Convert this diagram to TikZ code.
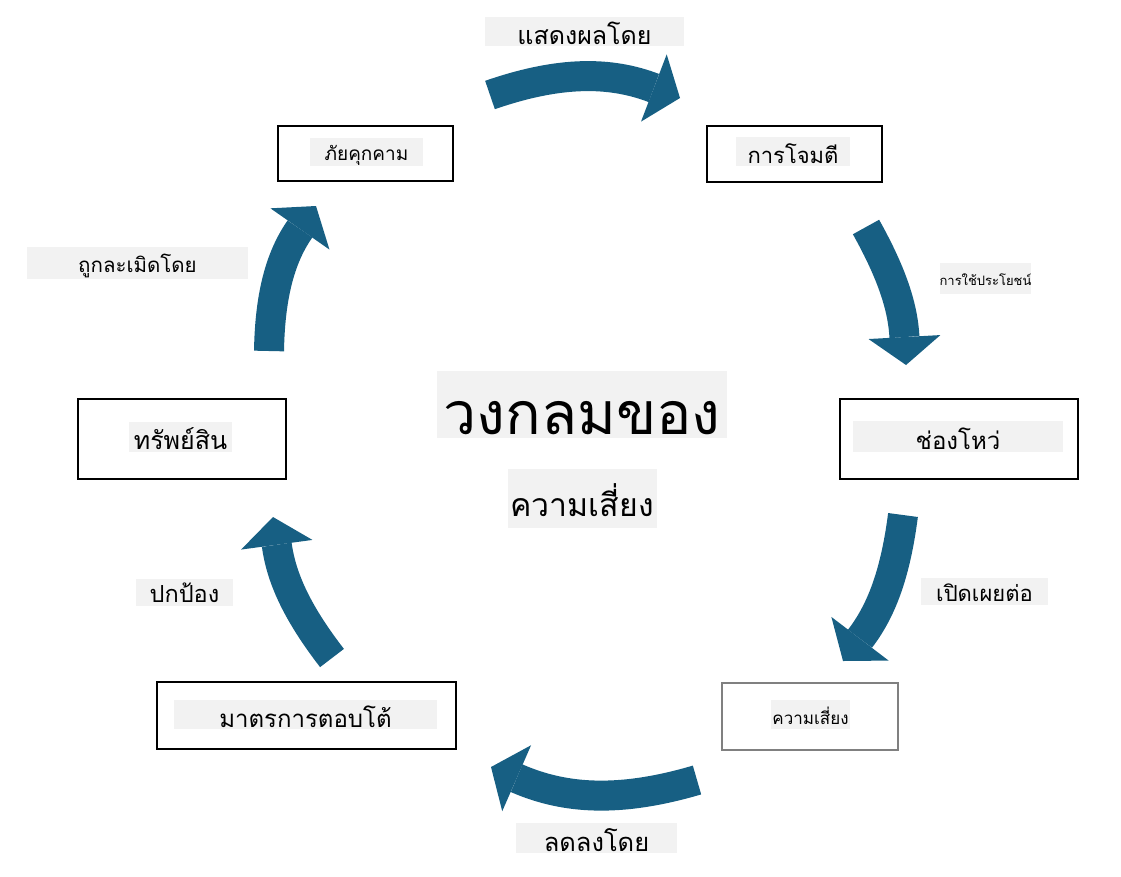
\documentclass[tikz,border=0pt]{standalone}
\usepackage{fontspec}
\setmainfont{Loma}[Script=Thai]
\usetikzlibrary{arrows.meta,positioning}
\definecolor{cycblue}{RGB}{23,95,131}
\definecolor{hlgray}{RGB}{242,242,242}
\begin{document}
\begin{tikzpicture}[x=1pt,y=-1pt, box/.style={rectangle,draw,line width=1.2pt,inner sep=0pt}, hl/.style={rectangle,fill=hlgray,inner sep=0pt,align=center,text depth=0pt}, cyc/.style={cycblue,line width=30pt,-{Triangle[length=28pt,width=72pt,line width=0pt]}}]
\useasboundingbox (0,0) rectangle (1121,876);
\node[hl,minimum width=290pt,minimum height=67pt,text height=60pt,font=\fontsize{59}{63}\selectfont] (title) at (582,404.5) {วงกลมของ};
\node[hl,below=31pt of title,minimum width=149pt,minimum height=59pt,text height=36pt,font=\fontsize{32}{36}\selectfont] (subtitle) {ความเสี่ยง};
\node[box,minimum width=175pt,minimum height=55pt] (threat) at (365.5,153.5) {};
\node[hl,minimum width=113pt,minimum height=28pt,text height=16pt,font=\fontsize{19}{21}\selectfont] (threattxt) at (366.5,152) {ภัยคุกคาม};
\node[box,minimum width=175pt,minimum height=56pt] (attack) at (794.5,154) {};
\node[hl,minimum width=114pt,minimum height=29pt,text height=24pt,font=\fontsize{22}{25}\selectfont] (attacktxt) at (793,151.5) {การโจมตี};
\node[box,minimum width=238pt,minimum height=80pt] (vuln) at (959,439) {};
\node[hl,minimum width=210pt,minimum height=31pt,text height=26pt,font=\fontsize{24}{27}\selectfont] (vulntxt) at (958,436.5) {ช่องโหว่};
\node[box,draw=gray,minimum width=176pt,minimum height=67pt] (risk) at (810,716.5) {};
\node[hl,minimum width=79pt,minimum height=29pt,text height=20pt,font=\fontsize{17}{19}\selectfont] (risktxt) at (810.5,714.5) {ความเสี่ยง};
\node[box,minimum width=299pt,minimum height=67pt] (counter) at (306.5,715.5) {};
\node[hl,minimum width=263pt,minimum height=29pt,text height=26pt,font=\fontsize{24}{27}\selectfont] (countertxt) at (305.5,714.5) {มาตรการตอบโต้};
\node[box,minimum width=208pt,minimum height=80pt] (asset) at (182,439) {};
\node[hl,minimum width=103pt,minimum height=30pt,text height=25pt,font=\fontsize{25}{28}\selectfont] (assettxt) at (180.5,437) {ทรัพย์สิน};
\node[hl,minimum width=199pt,minimum height=29pt,text height=26pt,font=\fontsize{25}{28}\selectfont] (shows) at (584.5,31.5) {แสดงผลโดย};
\node[hl,minimum width=91pt,minimum height=31pt,text height=13pt,font=\fontsize{13}{15}\selectfont] (exploits) at (985.5,278.5) {การใช้ประโยชน์};
\node[hl,minimum width=127pt,minimum height=27pt,text height=20pt,font=\fontsize{22}{25}\selectfont] (exposes) at (984.5,591.5) {เปิดเผยต่อ};
\node[hl,minimum width=161pt,minimum height=30pt,text height=27pt,font=\fontsize{25.5}{28}\selectfont] (reduces) at (596.5,838) {ลดลงโดย};
\node[hl,minimum width=97pt,minimum height=27pt,text height=20pt,font=\fontsize{23.5}{26}\selectfont] (protects) at (184.5,592.5) {ปกป้อง};
\node[hl,minimum width=221pt,minimum height=32pt,text height=18pt,font=\fontsize{20.5}{23}\selectfont] (violated) at (137.5,263) {ถูกละเมิดโดย};
\coordinate (a1s) at (490,95);
\coordinate (a1e) at (680,98);
\coordinate (a2s) at (866,227);
\coordinate (a2e) at (906,365);
\coordinate (a3s) at (903,515);
\coordinate (a3e) at (843,661);
\coordinate (a4s) at (697,780);
\coordinate (a4e) at (491,767);
\coordinate (a5s) at (332,658);
\coordinate (a5e) at (273,517);
\coordinate (a6s) at (269,351);
\coordinate (a6e) at (316,206);
\draw[cyc] (a1s) to[bend left=20] (a1e);
\draw[cyc] (a2s) to[bend left=13] (a2e);
\draw[cyc] (a3s) to[bend left=15] (a3e);
\draw[cyc] (a4s) to[bend left=20] (a4e);
\draw[cyc] (a5s) to[bend left=15] (a5e);
\draw[cyc] (a6s) to[bend left=17] (a6e);
\end{tikzpicture}
\end{document}
